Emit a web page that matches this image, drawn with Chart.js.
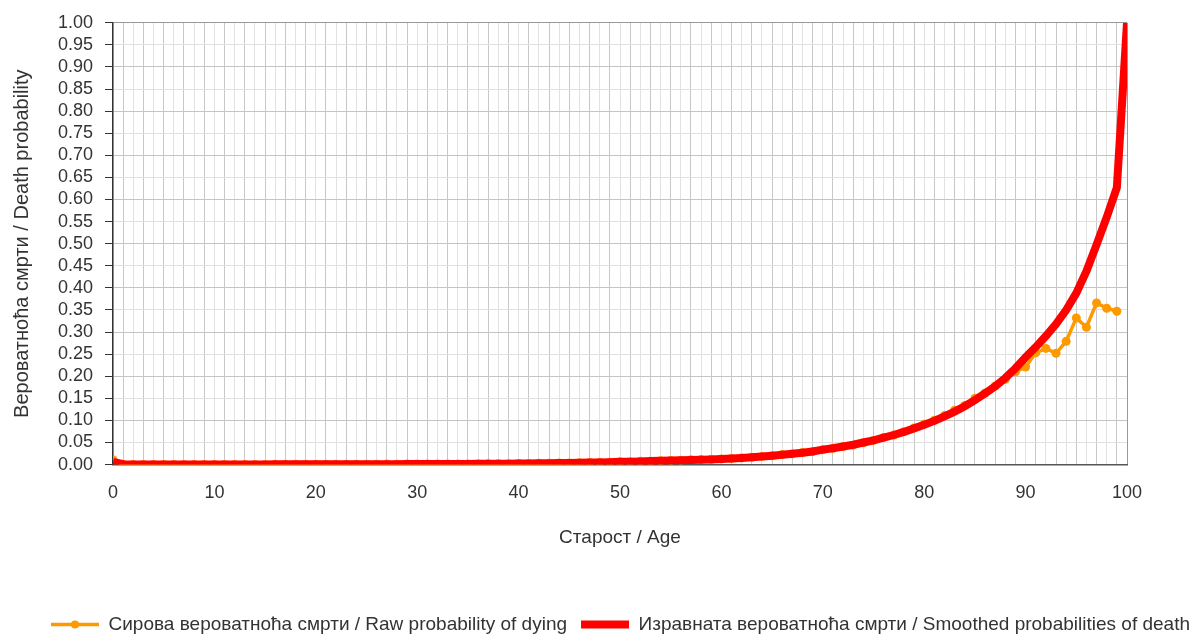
<!DOCTYPE html>
<html>
<head>
<meta charset="utf-8">
<script src="https://cdn.jsdelivr.net/npm/chart.js@4.4.0/dist/chart.umd.min.js"></script>
<style>
  html, body { margin: 0; padding: 0; background: #fff; }
</style>
</head>
<body>
<canvas id="deathChart" width="1195" height="634"></canvas>
<script>
// ages 0..100
var ages = Array.from({ length: 101 }, function (_, i) { return i; });

// raw probability of dying, ages 0..99
var rawProb = [
  0.0110, 0.0006, 0.0004, 0.0003, 0.0002, 0.0002, 0.0002, 0.0001, 0.0002, 0.0001,
  0.0002, 0.0002, 0.0002, 0.0003, 0.0004, 0.0005, 0.0006, 0.0007, 0.0009, 0.0008,
  0.0009, 0.0010, 0.0008, 0.0009, 0.0010, 0.0008, 0.0010, 0.0011, 0.0009, 0.0011,
  0.0012, 0.0011, 0.0013, 0.0014, 0.0013, 0.0016, 0.0016, 0.0019, 0.0020, 0.0021,
  0.0025, 0.0026, 0.0028, 0.0033, 0.0034, 0.0039, 0.0043, 0.0045, 0.0052, 0.0054,
  0.0062, 0.0066, 0.0074, 0.0078, 0.0087, 0.0094, 0.0099, 0.0109, 0.0113, 0.0121,
  0.0128, 0.0136, 0.0152, 0.0164, 0.0185, 0.0199, 0.0226, 0.0242, 0.0275, 0.0296,
  0.0335, 0.0370, 0.0408, 0.0440, 0.0495, 0.0548, 0.0615, 0.0668, 0.0745, 0.0830,
  0.0915, 0.1005, 0.1110, 0.1230, 0.1340, 0.1500, 0.1620, 0.1780, 0.1930, 0.2100,
  0.2210, 0.2530, 0.2630, 0.2520, 0.2790, 0.3320, 0.3110, 0.3660, 0.3540, 0.3470
];

// smoothed probabilities of death, ages 0..100
var smoothProb = [
  0.0060, 0.0008, 0.0005, 0.0004, 0.0003, 0.0003, 0.0003, 0.0002, 0.0002, 0.0002,
  0.0002, 0.0002, 0.0003, 0.0003, 0.0004, 0.0005, 0.0006, 0.0007, 0.0008, 0.0008,
  0.0009, 0.0009, 0.0009, 0.0009, 0.0009, 0.0009, 0.0010, 0.0010, 0.0010, 0.0011,
  0.0011, 0.0012, 0.0013, 0.0013, 0.0014, 0.0015, 0.0017, 0.0018, 0.0020, 0.0022,
  0.0024, 0.0026, 0.0029, 0.0032, 0.0035, 0.0038, 0.0042, 0.0046, 0.0050, 0.0055,
  0.0062, 0.0067, 0.0073, 0.0079, 0.0086, 0.0093, 0.0100, 0.0105, 0.0111, 0.0118,
  0.0125, 0.0137, 0.0150, 0.0165, 0.0182, 0.0200, 0.0221, 0.0244, 0.0270, 0.0298,
  0.0340, 0.0370, 0.0410, 0.0450, 0.0500, 0.0550, 0.0610, 0.0670, 0.0740, 0.0820,
  0.0900, 0.0990, 0.1090, 0.1200, 0.1320, 0.1460, 0.1610, 0.1770, 0.1960, 0.2180,
  0.2430, 0.2660, 0.2910, 0.3180, 0.3500, 0.3880, 0.4380, 0.4980, 0.5600, 0.6270,
  1.0000
];

var rawLabel = 'Сирова вероватноћа смрти / Raw probability of dying';
var smoothLabel = 'Изравната вероватноћа смрти / Smoothed probabilities of death';
var xTitle = 'Старост / Age';
var yTitle = 'Вероватноћа смрти / Death probability';

var ORANGE = '#ff9900';
var RED = '#ff0000';
var LEGEND_SHIFT = 9;

Chart.defaults.font.family = '"Liberation Sans", Arial, sans-serif';
Chart.defaults.font.size = 18;
Chart.defaults.color = '#333';

function toPoints(values) {
  return values.map(function (v, i) { return { x: ages[i], y: v }; });
}

// nudge the legend right a bit, and put a dot in the middle of the orange sample line
var legendTweaks = {
  id: 'legendTweaks',
  afterLayout: function (chart) {
    chart.legend.left += LEGEND_SHIFT;
    chart.legend.right += LEGEND_SHIFT;
  },
  afterDraw: function (chart) {
    var legend = chart.legend;
    if (!legend || !legend.legendItems) return;
    var ctx = chart.ctx;
    legend.legendItems.forEach(function (item, i) {
      if (item.datasetIndex !== 1) return;
      var hb = legend.legendHitBoxes[i];
      ctx.save();
      ctx.fillStyle = ORANGE;
      ctx.beginPath();
      ctx.arc(hb.left + 24, hb.top + hb.height / 2, 4, 0, Math.PI * 2);
      ctx.fill();
      ctx.restore();
    });
  }
};

var chart = new Chart(document.getElementById('deathChart'), {
  type: 'line',
  data: {
    datasets: [{
      label: smoothLabel,
      data: toPoints(smoothProb),
      borderColor: RED,
      backgroundColor: RED,
      borderWidth: 8,
      pointRadius: 0,
      tension: 0
    }, {
      label: rawLabel,
      data: toPoints(rawProb),
      borderColor: ORANGE,
      backgroundColor: ORANGE,
      borderWidth: 3.5,
      pointRadius: 4.5,
      pointBorderWidth: 0,
      pointBackgroundColor: ORANGE,
      tension: 0
    }]
  },
  options: {
    responsive: false,
    animation: false,
    devicePixelRatio: 1,
    events: [],
    layout: { padding: { top: 16, right: 0, bottom: -10, left: 0 } },
    plugins: {
      tooltip: { enabled: false },
      legend: {
        position: 'bottom',
        reverse: true,
        align: 'end',
        labels: {
          boxWidth: 48,
          boxHeight: 0,
          padding: 14,
          font: { size: 19 }
        }
      }
    },
    scales: {
      x: {
        type: 'linear',
        min: 0,
        max: 100,
        ticks: {
          stepSize: 1,
          autoSkip: false,
          maxRotation: 0,
          padding: 18,
          callback: function (v) { return v % 10 === 0 ? String(v) : ''; }
        },
        grid: {
          drawTicks: false,
          color: function (c) {
            if (c.tick.value === 100) return '#999';
            return c.tick.value % 2 === 1 ? '#c8c8c8' : '#e2e2e2';
          }
        },
        border: { color: '#555', width: 1.5 },
        title: {
          display: true,
          text: xTitle,
          font: { size: 19 },
          padding: { top: 4, bottom: 52 }
        }
      },
      y: {
        min: 0,
        max: 1,
        afterFit: function (s) { s.width = 113; },
        ticks: {
          stepSize: 0.05,
          autoSkip: false,
          padding: 12,
          callback: function (v) { return v.toFixed(2); }
        },
        grid: {
          tickLength: 8,
          tickColor: '#333',
          color: function (c) {
            var k = Math.round(c.tick.value * 100);
            if (k === 100) return '#999';
            return k % 10 === 0 ? '#c4c4c4' : '#e0e0e0';
          }
        },
        border: { color: '#333', width: 1.5 },
        title: {
          display: true,
          text: yTitle,
          font: { size: 20 },
          padding: { top: 10, bottom: 8 }
        }
      },
      yRight: {
        position: 'right',
        display: true,
        min: 0,
        max: 1,
        afterFit: function (s) { s.width = 68; },
        ticks: { display: false },
        grid: { display: false },
        border: { display: false }
      }
    }
  },
  plugins: [legendTweaks]
});
</script>
</body>
</html>
